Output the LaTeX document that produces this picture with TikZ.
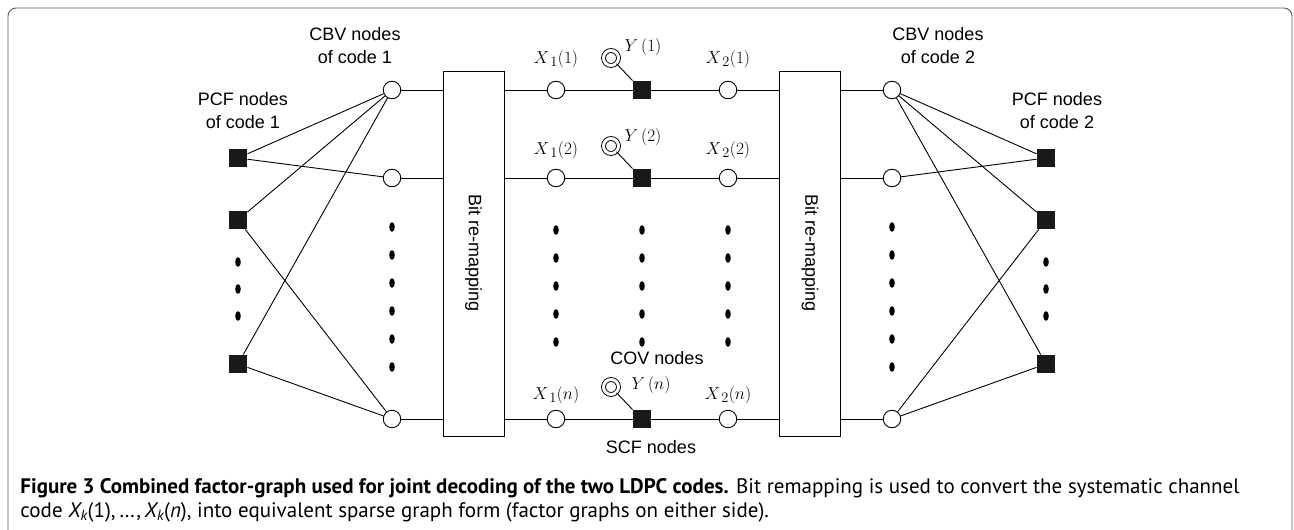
\documentclass[tikz,border=0pt]{standalone}
\usepackage{fontspec}
\setmainfont{Liberation Sans}
\newfontfamily\capfont{PT Sans}
\begin{document}
\begin{tikzpicture}[x=1pt, y=-1pt, line width=0.9pt,
    cbv/.style={circle, draw, fill=white, minimum size=17.5pt, inner sep=0pt},
    pcf/.style={rectangle, fill=black!90, minimum size=18pt, inner sep=0pt},
    obs/.style={circle, draw, fill=white, double=white, double distance=3pt, minimum size=15pt, inner sep=0pt},
    remap/.style={rectangle, draw, minimum width=61pt, minimum height=365pt, inner sep=0pt},
    lbl/.style={font=\fontsize{18}{23}\selectfont, align=center, inner sep=0pt},
    mlbl/.style={font=\fontsize{19}{22}\selectfont, inner sep=0pt}]
    \useasboundingbox (0,0) rectangle (1294,530);

    % Draw the frame
    \draw[black!65, rounded corners=8pt] (8,560) -- (8,8) -- (1292,8) -- (1292,560);

    % Remapping boxes
    \node[remap] (remap1) at (473.5,253.5) {};
    \node[remap] (remap2) at (810,253.5) {};
    \node[lbl, rotate=-90] (remaptxt1) at (remap1.center) {Bit re-mapping};
    \node[lbl, rotate=-90] (remaptxt2) at (remap2.center) {Bit re-mapping};

    % Rows of the systematic code
    \foreach \r/\yy/\yx/\lx/\ly in {1/90/-31/643/-43, 2/178/-28/643/-41, n/419/-24/651/-34} {
        \node[cbv] (cbvl\r) at (392,\yy) {};
        \node[cbv] (xa\r) at (556,\yy) {};
        \node[pcf] (scf\r) at (642,\yy) {};
        \node[cbv] (xb\r) at (728,\yy) {};
        \node[cbv] (cbvr\r) at (892,\yy) {};
        \node[obs] (yobs\r) at (611,\yy-32) {};
        \node[mlbl] (xalbl\r) at (556,\yy+\yx) {$X_{\,1}(\r)$};
        \node[mlbl] (xblbl\r) at (728,\yy+\yx) {$X_{\,2}(\r)$};
        \node[mlbl] (ylbl\r) at (\lx,\yy+\ly) {$Y\,(\r)$};
        \draw (cbvl\r) -- (cbvl\r -| remap1.west);
        \draw (remap1.east |- xa\r) -- (xa\r) -- (scf\r) -- (xb\r) -- (remap2.west |- xb\r);
        \draw (remap2.east |- cbvr\r) -- (cbvr\r);
        \draw (yobs\r) -- (scf\r.north west);
    }

    % Parity check factors
    \foreach \r/\yy in {1/158, 2/220, 3/364} {
        \node[pcf] (pcfl\r) at (238,\yy) {};
        \node[pcf] (pcfr\r) at (1046,\yy) {};
    }
    \draw (pcfl1) -- (cbvl1);
    \draw (pcfl1) -- (cbvl2);
    \draw (pcfl2) -- (cbvl1);
    \draw (pcfl2) -- (cbvln);
    \draw (pcfl3) -- (cbvl1);
    \draw (pcfl3) -- (cbvln);
    \draw (pcfr1) -- (cbvr1);
    \draw (pcfr1) -- (cbvr2);
    \draw (pcfr2) -- (cbvr1);
    \draw (pcfr2) -- (cbvrn);
    \draw (pcfr3) -- (cbvr1);
    \draw (pcfr3) -- (cbvrn);

    % Vertical dots
    \foreach \yy in {227,255,...,367} {
        \fill (392,\yy) ellipse (2.8pt and 4.8pt);
        \fill (892,\yy) ellipse (2.8pt and 4.8pt);
    }
    \foreach \yy in {230,258,...,342} {
        \fill (556,\yy) ellipse (2.8pt and 4.8pt);
        \fill (642,\yy) ellipse (2.8pt and 4.8pt);
        \fill (728,\yy) ellipse (2.8pt and 4.8pt);
    }
    \foreach \yy in {262,289,316} {
        \fill (238,\yy) ellipse (2.8pt and 4.8pt);
        \fill (1046,\yy) ellipse (2.8pt and 4.8pt);
    }

    % Group labels
    \node[lbl] (cbvtxt1) at (355,46) {CBV nodes\\of code 1};
    \node[lbl] (pcftxt1) at (243,111) {PCF nodes\\of code 1};
    \node[lbl] (cbvtxt2) at (938,46) {CBV nodes\\of code 2};
    \node[lbl] (pcftxt2) at (1057,111) {PCF nodes\\of code 2};
    \node[lbl] (covtxt) at (657,358) {COV nodes};
    \node[lbl] (scftxt) at (651,447) {SCF nodes};

    % Caption
    \node[anchor=west, inner sep=0pt, font=\capfont\fontsize{21}{24}\selectfont] (cap1) at (20,488)
        {\textbf{Figure 3 Combined factor-graph used for joint decoding of the two LDPC codes.} Bit remapping is used to convert the systematic channel};
    \node[anchor=west, inner sep=0pt, font=\capfont\fontsize{21}{24}\selectfont] (cap2) at (20,512)
        {code \textit{X\textsubscript{k}}(1),\,\dots,\,\textit{X\textsubscript{k}}(\textit{n}), into equivalent sparse graph form (factor graphs on either side).};
\end{tikzpicture}
\end{document}
